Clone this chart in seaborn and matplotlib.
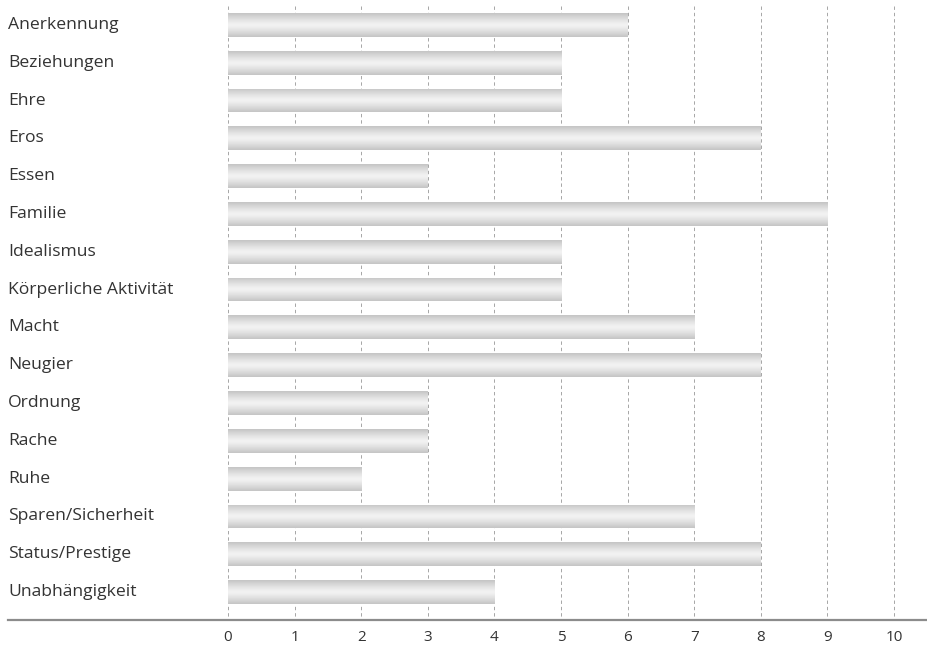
import numpy as np
import pandas as pd
import matplotlib
matplotlib.use("Agg")
import matplotlib.pyplot as plt
import matplotlib.transforms as mtransforms
import seaborn as sns

categories = ["Anerkennung", "Beziehungen", "Ehre", "Eros", "Essen", "Familie",
              "Idealismus", "Körperliche Aktivität", "Macht", "Neugier", "Ordnung",
              "Rache", "Ruhe", "Sparen/Sicherheit", "Status/Prestige", "Unabhängigkeit"]
values = [6, 5, 5, 8, 3, 9, 5, 5, 7, 8, 3, 3, 2, 7, 8, 4]
xticks = list(range(0, 11))

sns.set_theme(style="white")
plt.rcParams["font.family"] = ["Open Sans", "DejaVu Sans"]

df = pd.DataFrame({"motiv": categories, "wert": values})

fig = plt.figure(figsize=(9.28, 6.46), dpi=100)
ax = fig.add_axes([8 / 928, 1 - 620 / 646, 1 - 8 / 928, 620 / 646])

sns.barplot(data=df, y="motiv", x="wert", orient="h", color="#d8d8d8",
            width=0.63, ax=ax, zorder=3, linewidth=0)

# gradient fill on each bar
grad = np.abs(np.linspace(-1, 1, 64)) ** 1.3
grad = grad.reshape(-1, 1)
cmap = matplotlib.colors.LinearSegmentedColormap.from_list("bar", ["#f2f2f2", "#c4c4c4"])
for p in ax.patches:
    x0, y0 = p.get_x(), p.get_y()
    w, h = p.get_width(), p.get_height()
    p.set_edgecolor("none")
    im = ax.imshow(grad, cmap=cmap, aspect="auto", extent=[x0, x0 + w, y0 + h, y0],
                   zorder=4, interpolation="bicubic")
    im.set_clip_path(p)

ax.set_xlim(-3.303, 10.51)
ax.set_ylim(15.74, -0.66)

ax.vlines(xticks, -0.5, 15.74, colors="#a6a6a6", linestyles=(0, (3.5, 3)),
          linewidth=0.7, zorder=2)

for s in ["top", "right", "left"]:
    ax.spines[s].set_visible(False)
ax.spines["bottom"].set_color("#8c8c8c")
ax.spines["bottom"].set_linewidth(1.6)

ax.set_xticks(xticks)
ax.set_xticklabels([str(t) for t in xticks], fontsize=11, color="#333333")
ax.tick_params(axis="x", length=0, pad=7)
ax.set_yticks([])
ax.set_xlabel("")
ax.set_ylabel("")

trans = mtransforms.blended_transform_factory(ax.transAxes, ax.transData)
for i, c in enumerate(categories):
    ax.text(0.0, i, c, transform=trans, ha="left", va="center",
            fontsize=12.6, color="#333333")

ax.set_facecolor("white")
fig.savefig("out.png", dpi=100, facecolor="white")
